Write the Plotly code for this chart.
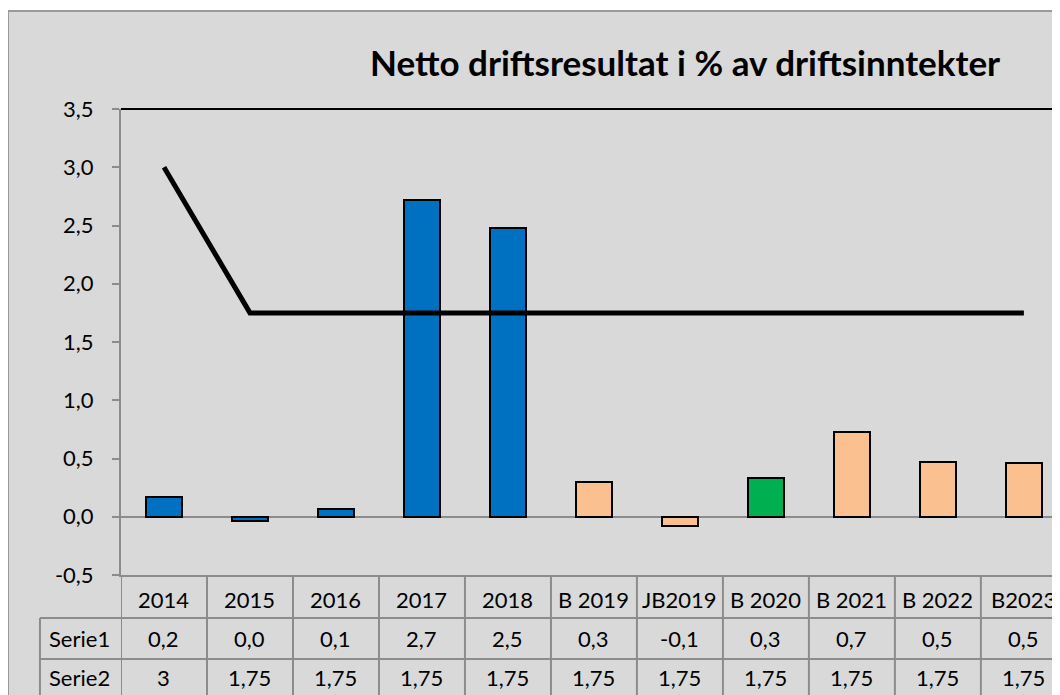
import plotly.graph_objects as go

categories = ["2014", "2015", "2016", "2017", "2018", "B 2019", "JB2019",
              "B 2020", "B 2021", "B 2022", "B2023"]
serie1 = [0.17, -0.04, 0.07, 2.72, 2.48, 0.30, -0.08, 0.33, 0.73, 0.47, 0.46]
serie2 = [3, 1.75, 1.75, 1.75, 1.75, 1.75, 1.75, 1.75, 1.75, 1.75, 1.75]
bar_colors = ["#0070c0"] * 5 + ["#fac090", "#fac090", "#00b050",
                                "#fac090", "#fac090", "#fac090"]
y_ticks = [-0.5, 0, 0.5, 1.0, 1.5, 2.0, 2.5, 3.0, 3.5]

FONT = "Lato, Carlito, Open Sans, sans-serif"
GRID = "#8c8c8c"


def fmt1(v):
    s = f"{v:.1f}"
    if s == "-0.0":
        s = "0.0"
    return s.replace(".", ",")


def fmtg(v):
    return f"{v:g}".replace(".", ",")


x = list(range(len(categories)))

fig = go.Figure()
fig.add_trace(go.Bar(
    x=x, y=serie1, width=0.42,
    marker=dict(color=bar_colors, line=dict(color="black", width=2)),
    name="Serie1",
))
fig.add_trace(go.Scatter(
    x=x, y=serie2, mode="lines",
    line=dict(color="black", width=5),
    name="Serie2",
))

# chart area background with border
shapes = [
    dict(type="rect", xref="paper", yref="paper", x0=-0.1203, x1=1.2, y0=-0.4, y1=1.2103,
         fillcolor="#d9d9d9", line=dict(color="#9a9a9a", width=2), layer="below"),
    # plot area top border
    dict(type="line", xref="paper", yref="paper", x0=0, x1=1.05, y0=1, y1=1,
         line=dict(color="black", width=2), layer="below"),
]

# data table grid
row_lines = [-0.0923, -0.1803]
for yy in row_lines:
    shapes.append(dict(type="line", xref="paper", yref="paper", x0=-0.0863, x1=1.05,
                       y0=yy, y1=yy, line=dict(color=GRID, width=2)))
shapes.append(dict(type="line", xref="paper", yref="paper", x0=-0.0863, x1=-0.0863,
                   y0=row_lines[0], y1=-0.4, line=dict(color=GRID, width=2)))
for i in range(len(categories) + 1):
    shapes.append(dict(type="line", xref="x", yref="paper", x0=i - 0.5, x1=i - 0.5,
                       y0=0, y1=-0.4, line=dict(color=GRID, width=2)))

annotations = [dict(
    text="<b>Netto driftsresultat i % av driftsinntekter</b>",
    xref="paper", yref="paper", x=0.6005, y=1.1, xanchor="center", yanchor="middle",
    showarrow=False, font=dict(size=35, color="black", family=FONT),
)]
row_y = [-0.0536, -0.137, -0.219]
cell_font = dict(size=22, color="black", family=FONT)
for i, cat in enumerate(categories):
    for text, yy in [(cat, row_y[0]), (fmt1(serie1[i]), row_y[1]), (fmtg(serie2[i]), row_y[2])]:
        annotations.append(dict(text=text, x=i, y=yy, xref="x", yref="paper",
                                xanchor="center", yanchor="middle",
                                showarrow=False, font=cell_font))
for name, yy in [("Serie1", row_y[1]), ("Serie2", row_y[2])]:
    annotations.append(dict(text=name, x=-0.0437, y=yy, xref="paper", yref="paper",
                            xanchor="center", yanchor="middle",
                            showarrow=False, font=cell_font))

fig.update_layout(
    width=1052, height=687,
    margin=dict(l=113, r=0, t=101, b=120),
    paper_bgcolor="white",
    plot_bgcolor="#d9d9d9",
    separators=", ",
    showlegend=False,
    bargap=0,
    font=dict(family=FONT, size=22, color="black"),
    shapes=shapes,
    annotations=annotations,
    xaxis=dict(
        range=[-0.5, 10.42], showticklabels=False, showgrid=False, zeroline=False,
        showline=True, linecolor=GRID, linewidth=2, ticks="",
    ),
    yaxis=dict(
        range=[-0.5, 3.5], tickvals=y_ticks, ticktext=[fmt1(v) for v in y_ticks],
        showgrid=False,
        zeroline=True, zerolinecolor=GRID, zerolinewidth=2,
        showline=True, linecolor=GRID, linewidth=2,
        ticks="outside", ticklen=7, tickwidth=2, tickcolor=GRID,
        ticklabelstandoff=14, tickfont=dict(size=22, family=FONT),
    ),
)

fig.write_html("out.html")
